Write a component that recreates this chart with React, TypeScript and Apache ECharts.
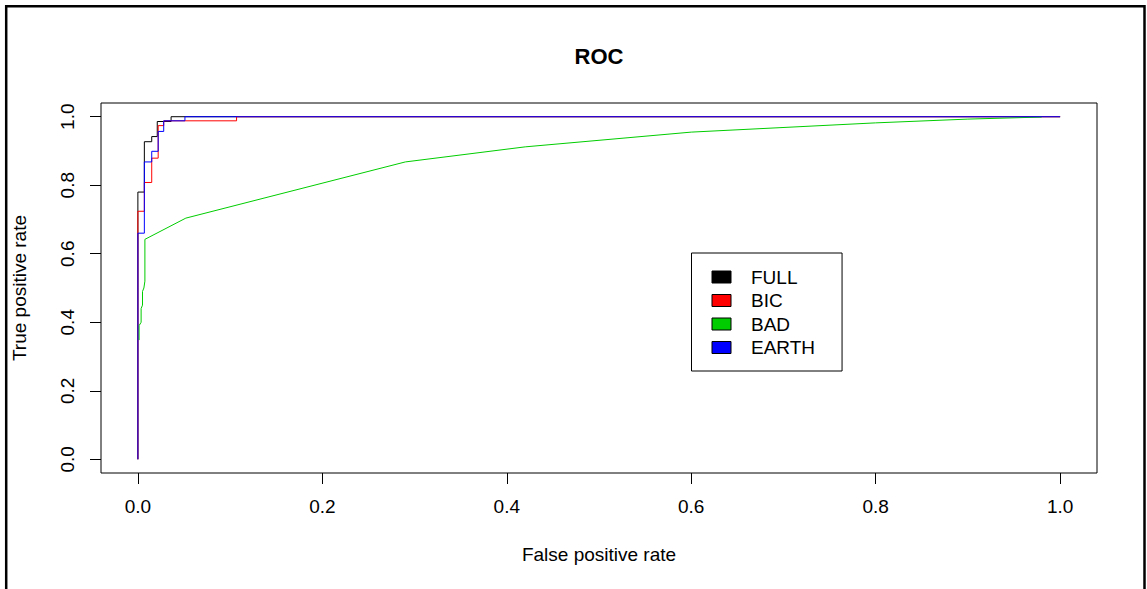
import React, { useEffect, useRef } from "react";
import * as echarts from "echarts";

const seriesNames = ["FULL", "BIC", "BAD", "EARTH"];
const seriesColors = ["#000000", "#ff0000", "#00cd00", "#0000ff"];

const fullRoc: number[][] = [
  [0, 0], [0, 0.78], [0.007, 0.78], [0.007, 0.927], [0.015, 0.927], [0.015, 0.942],
  [0.021, 0.942], [0.021, 0.986], [0.036, 0.986], [0.036, 1], [1, 1],
];
const bicRoc: number[][] = [
  [0, 0], [0, 0.724], [0.007, 0.724], [0.007, 0.808], [0.015, 0.808], [0.015, 0.879],
  [0.022, 0.879], [0.022, 0.974], [0.028, 0.974], [0.028, 0.988], [0.107, 0.988], [0.107, 1], [1, 1],
];
const badRoc: number[][] = [
  [0.0013, 0.348], [0.0013, 0.39], [0.0035, 0.4], [0.0035, 0.44], [0.005, 0.45], [0.005, 0.49],
  [0.0065, 0.5], [0.0076, 0.52], [0.0076, 0.642], [0.052, 0.704], [0.29, 0.868], [0.42, 0.912],
  [0.6, 0.955], [0.8, 0.982], [0.9, 0.993], [0.98, 0.999],
];
const earthRoc: number[][] = [
  [0, 0], [0, 0.66], [0.007, 0.66], [0.007, 0.868], [0.015, 0.868], [0.015, 0.899],
  [0.022, 0.899], [0.022, 0.957], [0.028, 0.957], [0.028, 0.988], [0.051, 0.988], [0.051, 1], [1, 1],
];
const seriesData = [fullRoc, bicRoc, badRoc, earthRoc];
const tickValues = [0, 0.2, 0.4, 0.6, 0.8, 1.0];

const FONT = "'Liberation Sans', Arial, sans-serif";

export default function App() {
  const ref = useRef<HTMLDivElement>(null);
  useEffect(() => {
    const chart = echarts.init(ref.current!, null, { renderer: "svg" });
    chart.setOption({
      animation: false,
      backgroundColor: "#ffffff",
      textStyle: { fontFamily: FONT },
      title: {
        text: "ROC",
        left: 594,
        top: 40,
        textAlign: "center",
        textStyle: { fontSize: 22, fontWeight: "bold", color: "#000", fontFamily: FONT },
      },
      grid: {
        left: 101,
        top: 103,
        width: 996,
        height: 370,
        show: true,
        borderColor: "#000",
        borderWidth: 1,
        backgroundColor: "transparent",
        containLabel: false,
      },
      xAxis: {
        type: "value",
        min: -0.04,
        max: 1.04,
        splitLine: { show: false },
        axisLine: { show: false, onZero: false },
        axisTick: { show: true, inside: false, length: 11, customValues: tickValues, lineStyle: { color: "#000", width: 1 } },
        axisLabel: {
          customValues: tickValues,
          formatter: (v: number) => v.toFixed(1),
          margin: 24,
          fontSize: 19,
          color: "#000",
          fontFamily: FONT,
        },
        name: "False positive rate",
        nameLocation: "middle",
        nameGap: 72,
        nameTextStyle: { fontSize: 19, color: "#000", fontFamily: FONT },
      },
      yAxis: {
        type: "value",
        min: -0.04,
        max: 1.04,
        splitLine: { show: false },
        axisLine: { show: false, onZero: false },
        axisTick: { show: true, inside: false, length: 11, customValues: tickValues, lineStyle: { color: "#000", width: 1 } },
        axisLabel: {
          customValues: tickValues,
          formatter: (v: number) => v.toFixed(1),
          rotate: 90,
          margin: 24,
          fontSize: 19,
          color: "#000",
          fontFamily: FONT,
        },
        name: "True positive rate",
        nameLocation: "middle",
        nameRotate: 90,
        nameGap: 72,
        nameTextStyle: { fontSize: 19, color: "#000", fontFamily: FONT },
      },
      legend: {
        orient: "vertical",
        left: 691.5,
        top: 253,
        data: seriesNames,
        icon: "rect",
        itemWidth: 19,
        itemHeight: 12,
        itemGap: 3.5,
        padding: [14, 27, 13.5, 20],
        borderColor: "#000",
        borderWidth: 1,
        backgroundColor: "#fff",
        selectedMode: false,
        itemStyle: { borderColor: "#000", borderWidth: 1 },
        textStyle: { fontSize: 19, color: "#000", lineHeight: 20, padding: [0, 0, 0, 15], fontFamily: FONT },
      },
      series: seriesNames.map((name, i) => ({
        type: "line",
        name,
        data: seriesData[i],
        color: seriesColors[i],
        showSymbol: false,
        symbol: "none",
        lineStyle: { width: 1, color: seriesColors[i] },
        itemStyle: { color: seriesColors[i] },
        z: 2 + i,
      })),
      graphic: [
        {
          type: "rect",
          silent: true,
          shape: { x: 6.2, y: 6.2, width: 1138.3, height: 700 },
          style: { fill: "none", stroke: "#000", lineWidth: 2.5 },
        },
      ],
    });
    return () => chart.dispose();
  }, []);
  return (
    <div
      ref={ref}
      style={{ position: "fixed", left: 0, top: 0, width: 1147, height: 589, background: "#fff" }}
    />
  );
}
